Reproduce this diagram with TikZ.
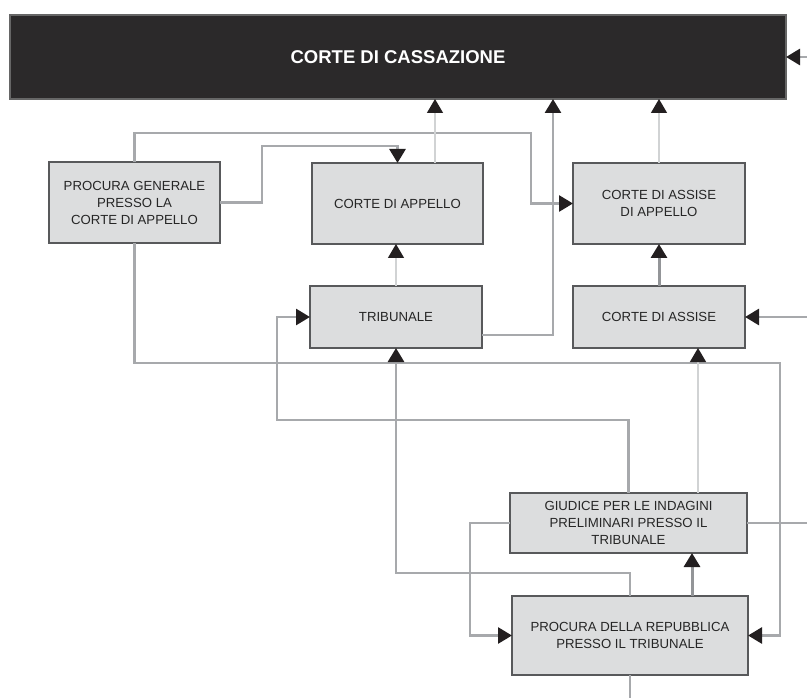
\documentclass[tikz,border=0pt]{standalone}
\usepackage{fontspec}
\setmainfont{Liberation Sans}
\usetikzlibrary{arrows.meta}
\definecolor{boxfill}{HTML}{DCDDDE}
\definecolor{boxline}{HTML}{58595B}
\definecolor{topfill}{HTML}{2B292A}
\definecolor{wiregray}{HTML}{A7A9AC}
\definecolor{faintgray}{HTML}{D1D3D4}
\definecolor{stronggray}{HTML}{939598}
\definecolor{tipblack}{HTML}{231F20}
\begin{document}
\begin{tikzpicture}[x=1pt,y=-1pt,
        court/.style={draw=boxline,line width=1.3pt,fill=boxfill,rectangle,inner sep=0pt,outer sep=0pt,align=center,font=\fontsize{13.2}{17}\selectfont,text=black!85},
        top/.style={draw=black!60,line width=1.3pt,fill=topfill,rectangle,inner sep=0pt,outer sep=0pt,minimum width=776pt,minimum height=84pt,text=white,font=\fontsize{18.5}{22}\selectfont\bfseries},
        wire/.style={draw=wiregray,line width=2.6pt},
        faint/.style={draw=faintgray,line width=1.4pt},
        strong/.style={draw=stronggray,line width=3pt},
        tip/.style={-{Triangle[length=14pt,width=16pt,color=tipblack]}}
      ]
      \useasboundingbox (0,0) rectangle (807,698);
      \node[top] (cass) at (398,57) {CORTE DI CASSAZIONE};
      \node[court,minimum width=171pt,minimum height=81pt] (pg) at (134.5,202.5) {PROCURA GENERALE\\PRESSO LA\\CORTE DI APPELLO};
      \node[court,minimum width=171pt,minimum height=81pt] (ca) at (397.5,203.5) {CORTE DI APPELLO};
      \node[court,minimum width=172pt,minimum height=81pt] (caa) at (659,203.5) {CORTE DI ASSISE\\DI APPELLO};
      \node[court,minimum width=172pt,minimum height=62pt] (trib) at (396,317) {TRIBUNALE};
      \node[court,minimum width=172pt,minimum height=62pt] (cas) at (659,317) {CORTE DI ASSISE};
      \node[court,minimum width=237pt,minimum height=60pt] (gip) at (628.5,523) {GIUDICE PER LE INDAGINI\\PRELIMINARI PRESSO IL\\TRIBUNALE};
      \node[court,minimum width=236pt,minimum height=79pt] (pdr) at (630,635.5) {PROCURA DELLA REPUBBLICA\\PRESSO IL TRIBUNALE};
      \coordinate (inCass) at (807,57);
      \coordinate (inCas) at (807,317);
      \coordinate (outGip) at (807,523);
      \coordinate (outPdr) at (630,698);

      \draw[wire,tip] (pg.north) |- (531,133) |- (caa.west);
      \draw[wire,tip] (pg.east) -| (262,146) -| (ca.north);
      \draw[wire,tip] (pg.south) |- (780,363) |- (pdr.east);
      \draw[faint,tip] ([xshift=37.5pt]ca.north) -- ([xshift=37.5pt]ca.north |- cass.south);
      \draw[faint,tip] (caa.north) -- (caa.north |- cass.south);
      \draw[faint,tip] (trib.north) -- (trib.north |- ca.south);
      \draw[wire,tip] ([yshift=-18pt]trib.east) -| ([xshift=155pt]cass.south);
      \draw[strong,tip] (cas.north) -- (caa.south);
      \draw[wire,tip] (inCas) -- (cas.east);
      \draw[wire,tip] (inCass) -- (cass.east);
      \draw[wire,tip] (gip.north) |- (277,420) |- (trib.west);
      \draw[faint,tip] ([xshift=69.5pt]gip.north) -- ([xshift=69.5pt]gip.north |- cas.south);
      \draw[wire,tip] (gip.west) -- ++(-40,0) |- (pdr.west);
      \draw[wire] (gip.east) -- (outGip);
      \draw[wire,tip] (pdr.north) -- ++(0,-23) -| (trib.south);
      \draw[strong,tip] ([xshift=62pt]pdr.north) -- ([xshift=62pt]pdr.north |- gip.south);
      \draw[wire] (pdr.south) -- (outPdr);
    \end{tikzpicture}
\end{document}
